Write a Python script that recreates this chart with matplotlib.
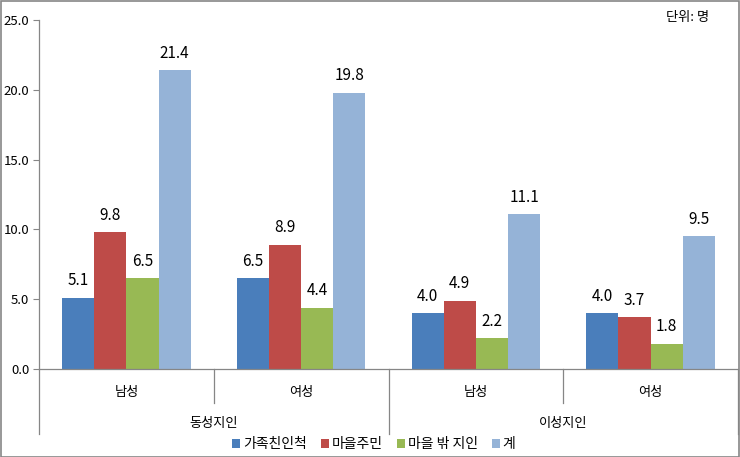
import numpy as np
import matplotlib.pyplot as plt
from matplotlib.patches import Rectangle

plt.rcParams['font.family'] = ['Noto Sans CJK KR', 'DejaVu Sans']

# data
sub_labels = ["남성", "여성", "남성", "여성"]
group_labels = ["동성지인", "이성지인"]
series_names = ["가족친인척", "마을주민", "마을 밖 지인", "계"]
family = [5.1, 6.5, 4.0, 4.0]
villagers = [9.8, 8.9, 4.9, 3.7]
outside = [6.5, 4.4, 2.2, 1.8]
total = [21.4, 19.8, 11.1, 9.5]
yticks = [0, 5, 10, 15, 20, 25]

colors = ["#4A7EBB", "#BE4B48", "#98B954", "#95B3D7"]
series = [family, villagers, outside, total]

fig = plt.figure(figsize=(7.4, 4.57), dpi=100)
ax = fig.add_axes([39 / 740, 1 - 369 / 457, 699 / 740, 349 / 457])

x = np.arange(len(sub_labels))
w = 0.184
for i, (vals, c, name) in enumerate(zip(series, colors, series_names)):
    pos = x + (i - 1.5) * w
    bars = ax.bar(pos, vals, w, color=c, label=name)
    for b, v in zip(bars, vals):
        ax.text(b.get_x() + b.get_width() / 2, v + 0.6, f"{v:.1f}",
                ha="center", va="bottom", fontsize=11)

ax.set_xlim(-0.5, 3.5)
ax.set_ylim(0, 25)
ax.set_yticks(yticks)
ax.set_yticklabels([f"{t:.1f}" for t in yticks], fontsize=9.5)
ax.tick_params(axis="y", direction="out", length=4, color="#868686", pad=3)
ax.set_xticks([])
for s in ["top", "right"]:
    ax.spines[s].set_visible(False)
for s in ["left", "bottom"]:
    ax.spines[s].set_color("#868686")
    ax.spines[s].set_linewidth(0.9)

# multi-level category axis
tr = ax.get_xaxis_transform()
ax.plot([-0.5, -0.5], [0, -0.186], transform=tr, clip_on=False, color="#868686", lw=0.9)
for xv, y2 in [(0.5, -0.097), (1.5, -0.186), (2.5, -0.097), (3.5, -0.186)]:
    ax.plot([xv, xv], [0, y2], transform=tr, clip_on=False, color="#868686", lw=0.9)
for xv, lab in zip(x, sub_labels):
    ax.text(xv, -0.066, lab, transform=tr, ha="center", va="center", fontsize=9.5)
for xv, lab in zip([0.5, 2.5], group_labels):
    ax.text(xv, -0.155, lab, transform=tr, ha="center", va="center", fontsize=9.5)

fig.text(0.958, 0.962, "단위: 명", ha="right", va="center", fontsize=9.5)

fig.legend(loc="center", bbox_to_anchor=(0.505, 0.028), ncol=4, frameon=False,
           fontsize=10, handlelength=0.6, handleheight=0.6, handletextpad=0.2,
           columnspacing=1.0)

fig.patches.append(Rectangle((0.001, 0.001), 0.997, 0.997, transform=fig.transFigure,
                             fill=False, edgecolor="#868686", lw=1.2))

fig.savefig("out.png", dpi=100)
